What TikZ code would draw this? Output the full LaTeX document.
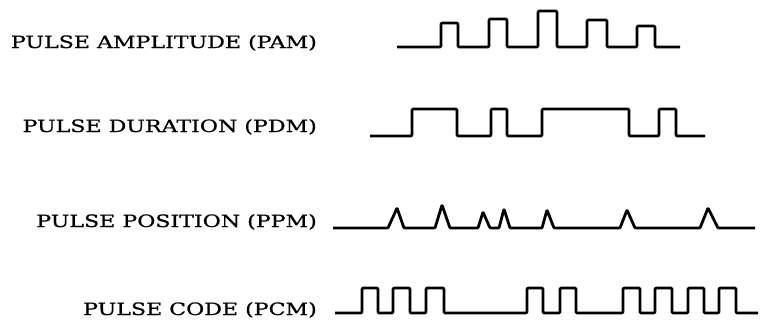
\documentclass[tikz,border=0pt]{standalone}
\usepackage{fontspec}
\setmainfont{DejaVu Serif}
\newfontfamily\labelfont[FakeBold=0.7]{DejaVu Serif}
\newcommand{\widelabel}[1]{\scalebox{1.3}[1]{#1}}
\begin{document}
\begin{tikzpicture}[x=1pt,y=-1pt,
  lbl/.style={anchor=base east,inner sep=0pt,font=\labelfont\fontsize{17}{20}\selectfont},
  wave/.style={line width=2.8pt,line join=round,line cap=butt,rounded corners=1.2pt}]
\useasboundingbox (0,0) rectangle (763,327);

% labels
\node[lbl] (pam) at (317,48) {\widelabel{PULSE AMPLITUDE (PAM)}};
\node[lbl] (pdm) at (317,132) {\widelabel{PULSE DURATION (PDM)}};
\node[lbl] (ppm) at (317,227) {\widelabel{PULSE POSITION (PPM)}};
\node[lbl] (pcm) at (317,315) {\widelabel{PULSE CODE (PCM)}};

% pulse amplitude: equal widths, varying heights
\draw[wave] (397,47) -- (441,47) -- (441,23) -- (458,23) -- (458,47)
  -- (489,47) -- (489,19) -- (507,19) -- (507,47)
  -- (538,47) -- (538,11) -- (557,11) -- (557,47)
  -- (587,47) -- (587,20) -- (607,20) -- (607,47)
  -- (637,47) -- (637,26) -- (655,26) -- (655,47) -- (680,47);

% pulse duration: equal heights, varying widths
\draw[wave] (370,136) -- (412,136) -- (412,109) -- (457,109) -- (457,136)
  -- (491,136) -- (491,109) -- (507,109) -- (507,136)
  -- (542,136) -- (542,109) -- (629,109) -- (629,136)
  -- (659,136) -- (659,109) -- (676,109) -- (676,136) -- (705,136);

% pulse position: narrow pulses at varying times
\draw[wave,rounded corners=0.8pt] (333,228) -- (388,228) -- (397,208) -- (404,228)
  -- (435,228) -- (442,205) -- (450,228)
  -- (478,228) -- (483,212) -- (490,228)
  -- (499,228) -- (504,209) -- (510,228)
  -- (542,228) -- (547,210) -- (554,228)
  -- (620,228) -- (627,210) -- (635,228)
  -- (700,228) -- (708,208) -- (718,228) -- (755,228);

% pulse code: groups of on/off pulses
\draw[wave] (335,313) -- (362,313) -- (362,288) -- (378,288) -- (378,313)
  -- (393,313) -- (393,288) -- (410,288) -- (410,313)
  -- (426,313) -- (426,288) -- (444,288) -- (444,313)
  -- (527,313) -- (527,288) -- (543,288) -- (543,313)
  -- (560,313) -- (560,288) -- (576,288) -- (576,313)
  -- (623,313) -- (623,288) -- (640,288) -- (640,313)
  -- (655,313) -- (655,288) -- (672,288) -- (672,313)
  -- (688,313) -- (688,288) -- (704,288) -- (704,313)
  -- (719,313) -- (719,288) -- (736,288) -- (736,313) -- (758,313);
\end{tikzpicture}
\end{document}
